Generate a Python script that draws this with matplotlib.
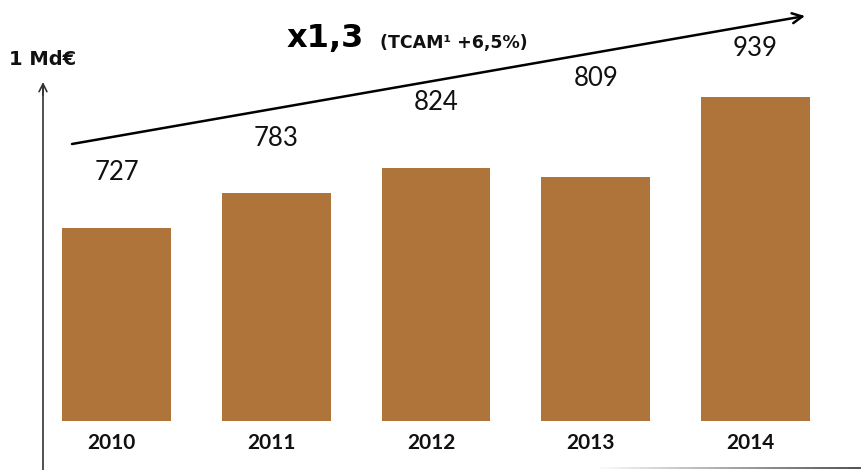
import numpy as np
import matplotlib.pyplot as plt
import matplotlib.transforms as mtrans
from matplotlib.collections import LineCollection

plt.rcParams['font.family'] = ['Lato', 'DejaVu Sans']

years = ['2010', '2011', '2012', '2013', '2014']
values = [727, 783, 824, 809, 939]

W, H = 864, 470
BAR_COLOR = '#AE743A'
HEAD_FONT = ['DejaVu Sans']


def fx(px):
    return px / W


def fy(py):
    return 1 - py / H


fig = plt.figure(figsize=(W / 100, H / 100), dpi=100)

# bar area: from the bar base (y=421 px) up to the top of the figure
base_px = 421
ax = fig.add_axes([0, fy(base_px), 1, base_px / H])
x = np.arange(len(values))
ax.bar(x, values, width=0.68, color=BAR_COLOR)
ax.set_xlim(-0.729, 4.679)
ax.set_ylim(415, 1096)
ax.axis('off')

tr = mtrans.blended_transform_factory(ax.transData, ax.transAxes)

# value labels sit along a rising line, parallel to the trend arrow
label_py = [172, 138, 103, 78, 49]
for i, v in enumerate(values):
    ax.text(x[i], (base_px - label_py[i]) / base_px, str(v), transform=tr,
            ha='center', va='center', fontsize=18.5, color='#111111')

for i, yr in enumerate(years):
    ax.text(x[i] - 0.03, (base_px - 443) / base_px, yr, transform=tr, ha='center',
            va='center', fontsize=15, fontweight='bold', color='#111111',
            clip_on=False)

# y axis arrow
fig.add_artist(plt.Line2D([fx(43), fx(43)], [fy(470), fy(86)], color='#333333', lw=1.2))
ax.annotate('', xy=(fx(43), fy(82)), xytext=(fx(43), fy(95)),
            xycoords='figure fraction', textcoords='figure fraction',
            arrowprops=dict(arrowstyle='->', color='#333333', lw=1.2,
                            mutation_scale=14, shrinkA=0, shrinkB=0))

# faint bottom axis, fading in towards the right
xs = np.linspace(fx(600), fx(861), 40)
segs = [[(xs[k], fy(468)), (xs[k + 1], fy(468))] for k in range(len(xs) - 1)]
shade = np.linspace(0.97, 0.2, len(segs))
lc = LineCollection(segs, colors=[(s, s, s) for s in shade], lw=1.2,
                    transform=fig.transFigure)
fig.add_artist(lc)

# trend arrow
ax.annotate('', xy=(fx(805), fy(16)), xytext=(fx(72), fy(144)),
            xycoords='figure fraction', textcoords='figure fraction',
            arrowprops=dict(arrowstyle='->', color='black', lw=1.8,
                            mutation_scale=18, shrinkA=0, shrinkB=0))

fig.text(fx(9), fy(65), '1 Md€', fontsize=14, fontweight='bold', family=HEAD_FONT,
         ha='left', va='baseline', color='#111111')
fig.text(fx(287), fy(47), 'x1,3', fontsize=23, fontweight='bold', family=HEAD_FONT,
         ha='left', va='baseline', color='black')
fig.text(fx(380), fy(48), '(TCAM¹ +6,5%)', fontsize=12.5, fontweight='bold',
         family=HEAD_FONT, ha='left', va='baseline', color='#111111')

fig.savefig('out.png', dpi=100, facecolor='white')
